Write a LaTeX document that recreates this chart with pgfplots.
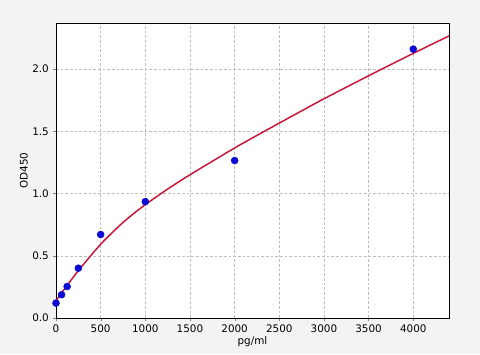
\documentclass[border=0pt]{standalone}
\usepackage{pgfplots}
\pgfplotsset{compat=1.18}
\usepackage{fontspec}
\setmainfont{DejaVu Sans}
\usetikzlibrary{backgrounds,calc}
\definecolor{figbg}{RGB}{243,243,243}
\definecolor{fitred}{RGB}{205,20,55}
\definecolor{ptblue}{RGB}{10,10,210}
\begin{document}
\fontsize{7.8}{9}\selectfont
\begin{tikzpicture}
\begin{axis}[
  scale only axis,
  width=294.75pt, height=221.25pt,
  xmin=0, xmax=4400, ymin=0, ymax=2.37,
  xtick={0,500,1000,1500,2000,2500,3000,3500,4000},
  ytick={0,0.5,1.0,1.5,2.0},
  yticklabel style={/pgf/number format/.cd,fixed,fixed zerofill,precision=1},
  xticklabel style={/pgf/number format/.cd,fixed,1000 sep={}},
  /pgf/number format/assume math mode=true,
  tick label style={font=\fontsize{7.8}{9}\selectfont},
  label style={font=\fontsize{7.8}{9}\selectfont},
  scaled ticks=false,
  tick align=outside,
  tick pos=left,
  major tick length=2.6pt,
  grid=major,
  major grid style={gray!50, dash pattern=on 2pt off 1.5pt, line width=0.35pt},
  axis line style={black, line width=0.6pt},
  axis background/.style={fill=white},
  xlabel={pg/ml},
  ylabel={OD450},
  xlabel style={yshift=3pt},
  ylabel style={yshift=-2pt},
  clip=true,
]
\coordinate (ll) at (rel axis cs:0,0);
\coordinate (ur) at (rel axis cs:1,1);
\addplot[fitred, line width=1.1pt, smooth, tension=0.5] coordinates {
(0,0.14) (62.5,0.201) (125,0.2625) (187.5,0.322) (250,0.38) (375,0.4885)
(500,0.5925) (625,0.683) (750,0.7675) (875,0.842) (1000,0.911) (1125,0.974)
(1250,1.036) (1375,1.094) (1500,1.151) (1750,1.259) (2000,1.366) (2250,1.467)
(2500,1.566) (2750,1.664) (3000,1.761) (3500,1.946) (4000,2.126) (4400,2.266)
};
\addplot[only marks, mark=*, mark size=2.6pt, color=ptblue] coordinates {
(0,0.12) (62.5,0.187) (125,0.253) (250,0.40) (500,0.671) (1000,0.935) (2000,1.265) (4000,2.16)
};
\end{axis}
\begin{scope}[on background layer]
\fill[figbg] ($(ll)+(-42pt,-27pt)$) rectangle ($(ur)+(23.25pt,17.25pt)$);
\end{scope}
\end{tikzpicture}
\end{document}
